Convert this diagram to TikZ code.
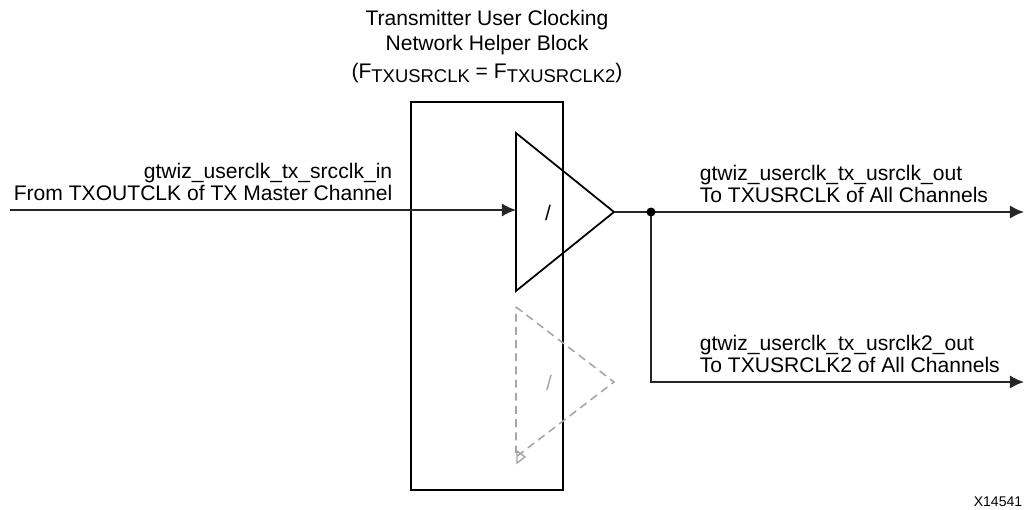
\documentclass[tikz,border=0pt]{standalone}
\usepackage{fontspec}
\setmainfont{Liberation Sans}
\usepackage{tikz}
\usetikzlibrary{arrows.meta}
\definecolor{ghost}{HTML}{A6A6A6}
\newcommand{\sublow}[1]{\raisebox{-0.35ex}{\fontsize{10.5}{12}\selectfont #1}}

\begin{document}
\begin{tikzpicture}[x=0.02cm,y=-0.02cm,line width=0.9pt]
            \tikzstyle{wire}=[draw=black!85,line width=1pt]
            \tikzstyle{sig}=[wire,-{Latex[length=8pt,width=7.5pt]}]
            \tikzstyle{lbl}=[inner sep=0pt,font=\fontsize{12}{12.2}\selectfont]
            \useasboundingbox (0,0) rectangle (1025,510);

            % helper block and its title
            \node[draw,line width=1.4pt,minimum width=3.04cm,minimum height=7.76cm,inner sep=0pt] (helper) at (487,296) {};
            \node[lbl,align=center,font=\fontsize{12}{14.2}\selectfont] (title) at (487,33) {Transmitter User Clocking\\Network Helper Block};
            \node[lbl] (freq) at (487,73) {(F\sublow{TXUSRCLK} = F\sublow{TXUSRCLK2})};

            % buffers
            \draw[line width=1pt,line join=miter] (516,133) -- (614,212) -- (516,291) -- cycle;
            \node[lbl] (div) at (548,213) {/};
            \draw[ghost,dashed,line width=0.9pt,dash pattern=on 4.5pt off 3pt] (516,307) -- (614,382) -- (516,457) -- cycle;
            \draw[ghost,line width=0.8pt] (517,451) -- (525,457) -- (517,463) -- cycle;
            \node[lbl,text=ghost] (divb) at (549,383) {/};

            \coordinate (src) at (10,210);
            \coordinate (bufin) at (516,210);
            \coordinate (bufout) at (614,212);
            \coordinate (tap) at (651,212);
            \coordinate (bend) at (651,382);
            \coordinate (out1) at (1024,212);
            \coordinate (out2) at (1024,382);

            \draw[sig] (src) -- (bufin);
            \draw[sig] (bufout) -- (out1);
            \draw[sig] (tap) -- (bend) -- (out2);
            \fill (tap) circle (4.5);

            % port labels
            \node[lbl,align=right,anchor=east] (inlbl) at (393,182) {gtwiz\_userclk\_tx\_srcclk\_in\\From TXOUTCLK of TX Master Channel};
            \node[lbl,align=left,anchor=west] (outlbl) at (699,184) {gtwiz\_userclk\_tx\_usrclk\_out\\To TXUSRCLK of All Channels};
            \node[lbl,align=left,anchor=west] (outlblb) at (699,354) {gtwiz\_userclk\_tx\_usrclk2\_out\\To TXUSRCLK2 of All Channels};

            \node[inner sep=0pt,anchor=east,font=\fontsize{8}{9}\selectfont] (fig) at (1023,502) {X14541};
        \end{tikzpicture}
\end{document}
